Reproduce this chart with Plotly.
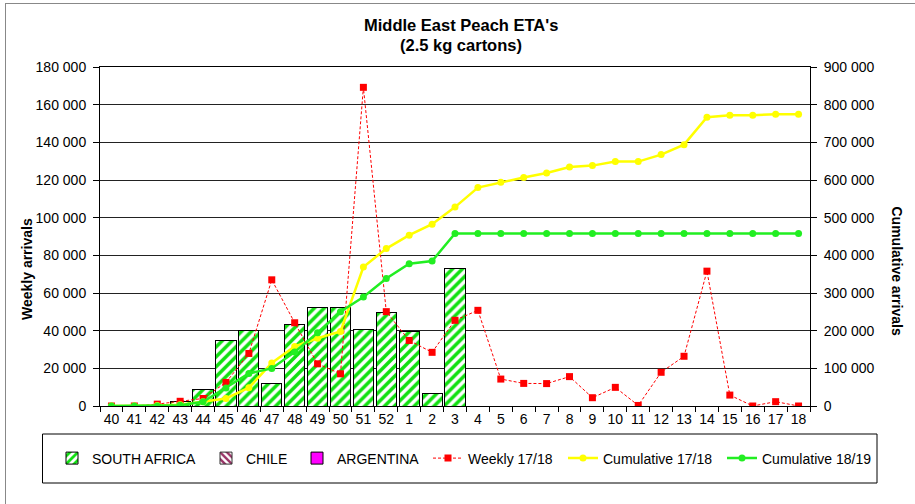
import plotly.graph_objects as go

weeks = ["40", "41", "42", "43", "44", "45", "46", "47", "48", "49", "50", "51", "52",
         "1", "2", "3", "4", "5", "6", "7", "8", "9", "10", "11", "12", "13", "14", "15", "16", "17", "18"]

south_africa = [None, None, None, 2400, 9000, 34600, 40000, 12000, 43300, 52500, 52500, 40500, 49700,
                39300, 6400, 72800, None, None, None, None, None, None, None, None, None, None, None, None, None, None, None]
chile = [None] * 31
argentina = [None] * 31

weekly_1718 = [0, 0, 1000, 2500, 4000, 12500, 27900, 67000, 44200, 22400, 17100, 169200, 50100,
               34800, 28500, 45500, 50800, 14300, 12000, 11900, 15600, 4400, 9900, 300, 17900, 26400,
               71600, 5800, 0, 2300, 0]

cum_1718 = [0, 0, 1000, 3500, 11000, 20000, 48500, 114000, 158000, 180000, 198000, 368700, 418000,
            453600, 482800, 528000, 579800, 594000, 606400, 618800, 634700, 638200, 648800, 648800,
            667400, 693900, 766600, 771900, 771900, 774500, 774500]

cum_1819 = [0, 0, 0, 2000, 11000, 47800, 86500, 99800, 143300, 194600, 250300, 289300, 338700,
            377700, 384900, 458200, 458200, 458200, 458200, 458200, 458200, 458200, 458200, 458200,
            458200, 458200, 458200, 458200, 458200, 458200, 458200]

left_ticks = [0, 20000, 40000, 60000, 80000, 100000, 120000, 140000, 160000, 180000]
left_labels = ["0", "20 000", "40 000", "60 000", "80 000", "100 000", "120 000", "140 000", "160 000", "180 000"]
right_ticks = [0, 100000, 200000, 300000, 400000, 500000, 600000, 700000, 800000, 900000]
right_labels = ["0", "100 000", "200 000", "300 000", "400 000", "500 000", "600 000", "700 000", "800 000", "900 000"]

FONT = "Liberation Sans, Arial, sans-serif"

fig = go.Figure()
fig.add_trace(go.Bar(x=weeks, y=south_africa, name="SOUTH AFRICA", legend="legend",
                     marker=dict(color="white", line=dict(color="black", width=1),
                                 pattern=dict(shape="/", fgcolor="#11e011", bgcolor="white", fgopacity=1,
                                              size=7, solidity=0.5, fillmode="replace"))))
fig.add_trace(go.Bar(x=weeks, y=chile, name="CHILE", legend="legend2",
                     marker=dict(color="white", line=dict(color="#333333", width=1),
                                 pattern=dict(shape="\\", fgcolor="#993366", bgcolor="white", fgopacity=1,
                                              size=6, solidity=0.5, fillmode="replace"))))
fig.add_trace(go.Bar(x=weeks, y=argentina, name="ARGENTINA", legend="legend3",
                     marker=dict(color="#ff00ff", line=dict(color="black", width=1))))
fig.add_trace(go.Scatter(x=weeks, y=weekly_1718, name="Weekly 17/18", mode="lines+markers", legend="legend4",
                         line=dict(color="#ff0000", width=1, dash="3px,2px"),
                         marker=dict(symbol="square", size=7, color="#ff0000")))
fig.add_trace(go.Scatter(x=weeks, y=cum_1718, name="Cumulative 17/18", mode="lines+markers", legend="legend5",
                         yaxis="y2", line=dict(color="#ffff00", width=2.5),
                         marker=dict(symbol="circle", size=7, color="#ffff00")))
fig.add_trace(go.Scatter(x=weeks, y=cum_1819, name="Cumulative 18/19", mode="lines+markers", legend="legend6",
                         yaxis="y2", line=dict(color="#22ee22", width=2.5),
                         marker=dict(symbol="circle", size=7, color="#22ee22")))

def px_x(p):
    return (p - 100) / 710.0

def px_y(p):
    return (406 - p) / 339.0

def legend_at(px_left):
    return dict(orientation="h", x=px_x(px_left), xanchor="left", y=px_y(458.5), yanchor="middle",
                font=dict(family=FONT, size=14, color="black"),
                bgcolor="rgba(0,0,0,0)", borderwidth=0)

fig.update_layout(
    width=915, height=504,
    margin=dict(l=100, r=105, t=67, b=98, autoexpand=False),
    paper_bgcolor="white", plot_bgcolor="white",
    font=dict(family=FONT, size=14, color="black"),
    barmode="stack", bargap=0.12,
    showlegend=True,
    legend=legend_at(52),
    legend2=legend_at(206),
    legend3=legend_at(297),
    legend4=legend_at(428),
    legend5=legend_at(563),
    legend6=legend_at(722),
    xaxis=dict(type="category", range=[-0.5, 30.5], showline=True, linecolor="black", linewidth=1,
               mirror=True, ticks="outside", ticklen=5, tickcolor="black", tickson="boundaries",
               tickangle=0, showgrid=False, tickfont=dict(family=FONT, size=14)),
    yaxis=dict(range=[0, 180000], tickvals=left_ticks, ticktext=left_labels, showline=True,
               linecolor="black", linewidth=1, ticks="outside", ticklen=6, tickcolor="black",
               showgrid=True, gridcolor="#222222", gridwidth=1, zeroline=False,
               tickfont=dict(family=FONT, size=14), ticklabelstandoff=4),
    yaxis2=dict(range=[0, 900000], tickvals=right_ticks, ticktext=right_labels, overlaying="y",
                side="right", showline=True, linecolor="black", linewidth=1, ticks="outside",
                ticklen=6, tickcolor="black", showgrid=False, zeroline=False,
                tickfont=dict(family=FONT, size=14), ticklabelstandoff=4),
    annotations=[
        dict(text="<b>Middle East Peach ETA's</b>", xref="paper", yref="paper", x=px_x(461), y=px_y(25),
             xanchor="center", yanchor="middle", showarrow=False, font=dict(family=FONT, size=16.5)),
        dict(text="<b>(2.5 kg cartons)</b>", xref="paper", yref="paper", x=px_x(461), y=px_y(44.5),
             xanchor="center", yanchor="middle", showarrow=False, font=dict(family=FONT, size=16.5)),
        dict(text="<b>Weekly arrivals</b>", xref="paper", yref="paper", x=px_x(27), y=px_y(269),
             xanchor="center", yanchor="middle", textangle=-90, showarrow=False,
             font=dict(family=FONT, size=14)),
        dict(text="<b>Cumulative arrivals</b>", xref="paper", yref="paper", x=px_x(897), y=px_y(270.5),
             xanchor="center", yanchor="middle", textangle=90, showarrow=False,
             font=dict(family=FONT, size=14)),
    ],
    shapes=[
        dict(type="rect", xref="paper", yref="paper", x0=px_x(42.5), x1=px_x(877), y0=px_y(434), y1=px_y(483),
             line=dict(color="black", width=1), fillcolor="rgba(0,0,0,0)"),
        dict(type="line", xref="paper", yref="paper", x0=px_x(5), x1=px_x(915), y0=px_y(3.5), y1=px_y(3.5),
             line=dict(color="#888888", width=1)),
        dict(type="line", xref="paper", yref="paper", x0=px_x(5.5), x1=px_x(5.5), y0=px_y(3), y1=px_y(504),
             line=dict(color="#888888", width=1)),
    ],
)

fig.write_html("out.html", config={"displayModeBar": False},
               post_script="document.body.style.margin='0';document.body.style.overflow='hidden';")
